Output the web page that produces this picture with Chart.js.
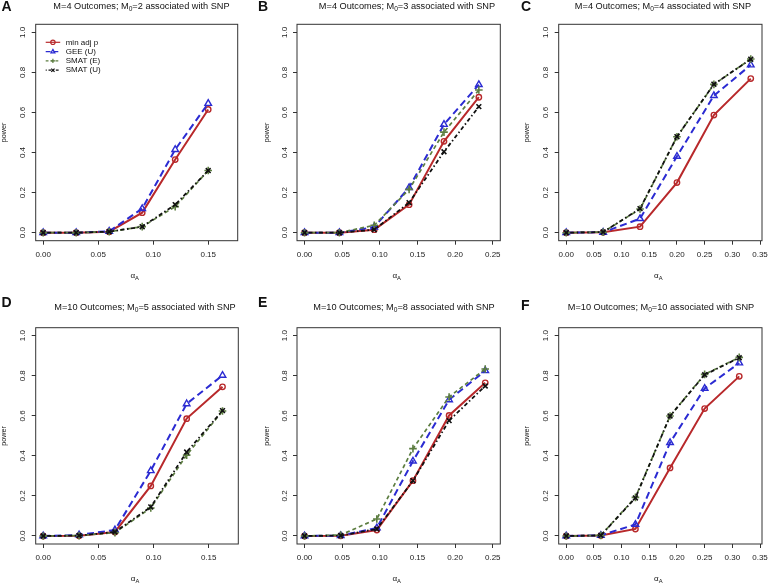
<!DOCTYPE html>
<html>
<head>
<meta charset="utf-8">
<script src="https://cdn.jsdelivr.net/npm/chart.js@4.4.0/dist/chart.umd.min.js"></script>
<style>
  html, body { margin: 0; padding: 0; background: #fff; overflow: hidden; }
  #wrap { position: relative; width: 768px; height: 584px; }
  #wrap canvas { position: absolute; left: 0; top: 0; }
</style>
</head>
<body>
<div id="wrap"></div>
<script>
// series names (legend)
const seriesNames = ['min adj p', 'GEE (U)', 'SMAT (E)', 'SMAT (U)'];

// alpha_A values per panel
const xA = [0, 0.03, 0.06, 0.09, 0.12, 0.15];
const xB = [0, 0.0463, 0.0926, 0.1389, 0.1852, 0.2315];
const xC = [0, 0.0667, 0.1333, 0.2, 0.2667, 0.3333];
const xD = [0, 0.0325, 0.065, 0.0975, 0.13, 0.1625];
const xE = [0, 0.048, 0.096, 0.144, 0.192, 0.24];
const xF = [0, 0.0625, 0.125, 0.1875, 0.25, 0.3125];

// power values: min adj p, GEE (U), SMAT (E), SMAT (U)
const minA = [0, 0, 0.005, 0.10, 0.365, 0.615];
const geeA = [0, 0, 0.007, 0.12, 0.415, 0.645];
const smatEA = [0, 0, 0.005, 0.03, 0.13, 0.31];
const smatUA = [0, 0, 0.005, 0.03, 0.14, 0.31];

const minB = [0, 0, 0.015, 0.14, 0.456, 0.676];
const geeB = [0, 0, 0.028, 0.225, 0.54, 0.739];
const smatEB = [0, 0, 0.037, 0.216, 0.502, 0.712];
const smatUB = [0, 0, 0.015, 0.15, 0.404, 0.629];

const minC = [0, 0.002, 0.03, 0.25, 0.587, 0.769];
const geeC = [0, 0.002, 0.07, 0.381, 0.684, 0.837];
const smatEC = [0, 0.003, 0.118, 0.479, 0.74, 0.867];
const smatUC = [0, 0.003, 0.12, 0.479, 0.741, 0.866];

const minD = [0, 0.001, 0.02, 0.25, 0.586, 0.745];
const geeD = [0, 0.005, 0.03, 0.326, 0.66, 0.802];
const smatED = [0, 0.002, 0.017, 0.14, 0.404, 0.624];
const smatUD = [0, 0.002, 0.02, 0.145, 0.419, 0.626];

const minE = [0, 0.001, 0.03, 0.276, 0.602, 0.765];
const geeE = [0, 0.002, 0.04, 0.374, 0.68, 0.825];
const smatEE = [0, 0.005, 0.085, 0.436, 0.694, 0.834];
const smatUE = [0, 0.002, 0.035, 0.276, 0.576, 0.749];

const minF = [0, 0.002, 0.035, 0.34, 0.636, 0.797];
const geeF = [0, 0.003, 0.058, 0.466, 0.737, 0.864];
const smatEF = [0, 0.003, 0.193, 0.599, 0.807, 0.892];
const smatUF = [0, 0.003, 0.19, 0.599, 0.805, 0.89];

// tick labels
const xTicks15 = [0, 0.05, 0.10, 0.15];
const xTicks25 = [0, 0.05, 0.10, 0.15, 0.20, 0.25];
const xTicks35 = [0, 0.05, 0.10, 0.15, 0.20, 0.25, 0.30, 0.35];
const yTicks = [0, 0.2, 0.4, 0.6, 0.8, 1.0];

const panelLetters = ['A', 'B', 'C', 'D', 'E', 'F'];
const panelTitles = [
  ['M=4 Outcomes; M', '0', '=2 associated with SNP'],
  ['M=4 Outcomes; M', '0', '=3 associated with SNP'],
  ['M=4 Outcomes; M', '0', '=4 associated with SNP'],
  ['M=10 Outcomes; M', '0', '=5 associated with SNP'],
  ['M=10 Outcomes; M', '0', '=8 associated with SNP'],
  ['M=10 Outcomes; M', '0', '=10 associated with SNP']
];

const FONT = '"Liberation Sans", Arial, Helvetica, sans-serif';
const colors = ['#b8292b', '#2b2bd2', '#5c7d40', '#111111'];
const dashes = [[], [7, 4], [4, 3], [1.5, 2.5, 4, 2.5]];
const pstyles = ['circle', 'triangle', 'cross', 'crossRot'];
const pradius = [2.7, 3.8, 3.8, 3.4];
const lwidth = [2, 2, 1.7, 1.8];

// layout of each panel (page pixels)
const panels = [
  { x: xA, ys: [minA, geeA, smatEA, smatUA], ticks: xTicks15, xmin: -0.0068, xmax: 0.1768,
    box: [35.7, 24.3, 237.7, 240.7], tx: 141.5, ty: 6, lx: 1.5, ly: 7, px: 4.5, legend: true },
  { x: xB, ys: [minB, geeB, smatEB, smatUB], ticks: xTicks25, xmin: -0.01, xmax: 0.26,
    box: [297, 24.3, 500.3, 240.7], tx: 407, ty: 6, lx: 258, ly: 7, px: 267 },
  { x: xC, ys: [minC, geeC, smatEC, smatUC], ticks: xTicks35, xmin: -0.0136, xmax: 0.3536,
    box: [558.7, 24.3, 762, 240.7], tx: 663, ty: 6, lx: 521, ly: 7, px: 527 },
  { x: xD, ys: [minD, geeD, smatED, smatUD], ticks: xTicks15, xmin: -0.0068, xmax: 0.1768,
    box: [35.7, 327.7, 238.3, 544], tx: 145, ty: 307.5, lx: 1.5, ly: 303, px: 4.5 },
  { x: xE, ys: [minE, geeE, smatEE, smatUE], ticks: xTicks25, xmin: -0.01, xmax: 0.26,
    box: [297, 327.7, 500.3, 544], tx: 404, ty: 307.5, lx: 258, ly: 303, px: 267 },
  { x: xF, ys: [minF, geeF, smatEF, smatUF], ticks: xTicks35, xmin: -0.0136, xmax: 0.3536,
    box: [558.7, 327.7, 762, 544], tx: 661, ty: 307.5, lx: 521, ly: 306, px: 527 }
];

function drawParts(ctx, parts, cx, cy, size) {
  const fonts = parts.map((p, i) => (i % 2 ? (size * 0.72) : size) + 'px ' + FONT);
  let total = 0;
  const widths = parts.map((p, i) => { ctx.font = fonts[i]; const w = ctx.measureText(p).width; total += w; return w; });
  let x = cx - total / 2;
  ctx.textAlign = 'left';
  ctx.textBaseline = 'middle';
  parts.forEach((p, i) => {
    ctx.font = fonts[i];
    ctx.fillText(p, x, i % 2 ? cy + size * 0.3 : cy);
    x += widths[i];
  });
}

function drawMarker(ctx, style, x, y, r) {
  ctx.beginPath();
  if (style === 'circle') {
    ctx.arc(x, y, r, 0, Math.PI * 2);
  } else if (style === 'triangle') {
    ctx.moveTo(x, y - r);
    ctx.lineTo(x + r * 0.9, y + r * 0.6);
    ctx.lineTo(x - r * 0.9, y + r * 0.6);
    ctx.closePath();
  } else if (style === 'cross') {
    ctx.moveTo(x - r, y); ctx.lineTo(x + r, y);
    ctx.moveTo(x, y - r); ctx.lineTo(x, y + r);
  } else {
    const d = r * 0.75;
    ctx.moveTo(x - d, y - d); ctx.lineTo(x + d, y + d);
    ctx.moveTo(x + d, y - d); ctx.lineTo(x - d, y + d);
  }
  ctx.stroke();
}

const decor = {
  id: 'decor',
  afterDraw(chart, args, o) {
    const { ctx, chartArea: a } = chart;
    const p = o.panel;
    ctx.save();
    ctx.strokeStyle = '#333';
    ctx.lineWidth = 1;
    ctx.setLineDash([]);
    ctx.strokeRect(a.left, a.top, a.right - a.left, a.bottom - a.top);

    ctx.fillStyle = '#111';
    // panel letter
    ctx.font = 'bold 14px ' + FONT;
    ctx.textAlign = 'left';
    ctx.textBaseline = 'middle';
    ctx.fillText(o.letter, p.lx, p.ly);
    // title
    drawParts(ctx, o.title, p.tx, p.ty, 9.2);
    // x label alpha_A
    drawParts(ctx, ['\u03b1', 'A'], (a.left + a.right) / 2 - 2, a.bottom + 35, 8);
    // y label
    ctx.save();
    ctx.translate(p.px, (a.top + a.bottom) / 2);
    ctx.rotate(-Math.PI / 2);
    ctx.font = '7.2px ' + FONT;
    ctx.textAlign = 'center';
    ctx.textBaseline = 'middle';
    ctx.fillText('power', 0, 0);
    ctx.restore();

    if (p.legend) {
      const x0 = a.left + 10, y0 = a.top + 18;
      seriesNames.forEach((name, i) => {
        const yy = y0 + i * 9.3;
        ctx.strokeStyle = colors[i];
        ctx.lineWidth = 1.2;
        ctx.setLineDash(dashes[i].map(d => d * 0.7));
        ctx.beginPath();
        ctx.moveTo(x0, yy); ctx.lineTo(x0 + 14.5, yy);
        ctx.stroke();
        ctx.setLineDash([]);
        drawMarker(ctx, pstyles[i], x0 + 7.2, yy, 2.2);
        ctx.fillStyle = '#111';
        ctx.font = '8px ' + FONT;
        ctx.textAlign = 'left';
        ctx.textBaseline = 'middle';
        ctx.fillText(name, x0 + 20, yy);
      });
    }
    ctx.restore();
  }
};

const wrap = document.getElementById('wrap');
panels.forEach((p, k) => {
  const cv = document.createElement('canvas');
  cv.width = 768; cv.height = 584;
  wrap.appendChild(cv);
  const yW = 20, xH = 30;
  const [bl, bt, br, bb] = p.box;
  const datasets = p.ys.map((ys, i) => ({
    label: seriesNames[i],
    data: p.x.map((xv, j) => ({ x: xv, y: ys[j] })),
    borderColor: colors[i],
    backgroundColor: 'rgba(0,0,0,0)',
    borderWidth: lwidth[i],
    borderDash: dashes[i],
    pointStyle: pstyles[i],
    pointRadius: pradius[i],
    pointBorderWidth: i > 1 ? 1.6 : 1.4,
    pointBorderColor: colors[i],
    pointBackgroundColor: 'rgba(0,0,0,0)',
    tension: 0,
    fill: false,
    order: 4 - i
  }));
  new Chart(cv, {
    type: 'line',
    data: { datasets },
    options: {
      responsive: false,
      animation: false,
      events: [],
      layout: { padding: { left: bl - yW, top: bt, right: 768 - br, bottom: 584 - bb - xH } },
      plugins: {
        legend: { display: false },
        title: { display: false },
        tooltip: { enabled: false },
        decor: { panel: p, letter: panelLetters[k], title: panelTitles[k] }
      },
      scales: {
        x: {
          type: 'linear',
          min: p.xmin, max: p.xmax,
          afterBuildTicks: s => { s.ticks = p.ticks.map(v => ({ value: v })); },
          afterFit: s => { s.height = xH; s.paddingLeft = 0; s.paddingRight = 0; },
          grid: { display: true, drawOnChartArea: false, drawTicks: true, tickLength: 4, color: '#333' },
          border: { display: false },
          ticks: {
            autoSkip: false, maxRotation: 0, minRotation: 0, padding: 5,
            color: '#222', font: { family: FONT, size: 8 },
            callback: v => v.toFixed(2)
          }
        },
        y: {
          type: 'linear',
          min: -0.04, max: 1.04,
          afterBuildTicks: s => { s.ticks = yTicks.map(v => ({ value: v })); },
          afterFit: s => { s.width = yW; s.paddingTop = 0; s.paddingBottom = 0; },
          grid: { display: true, drawOnChartArea: false, drawTicks: true, tickLength: 4, color: '#333' },
          border: { display: false },
          ticks: {
            minRotation: 90, maxRotation: 90, crossAlign: 'center', padding: 3,
            color: '#222', font: { family: FONT, size: 8 },
            callback: v => v.toFixed(1)
          }
        }
      }
    },
    plugins: [decor]
  });
});
</script>
</body>
</html>
